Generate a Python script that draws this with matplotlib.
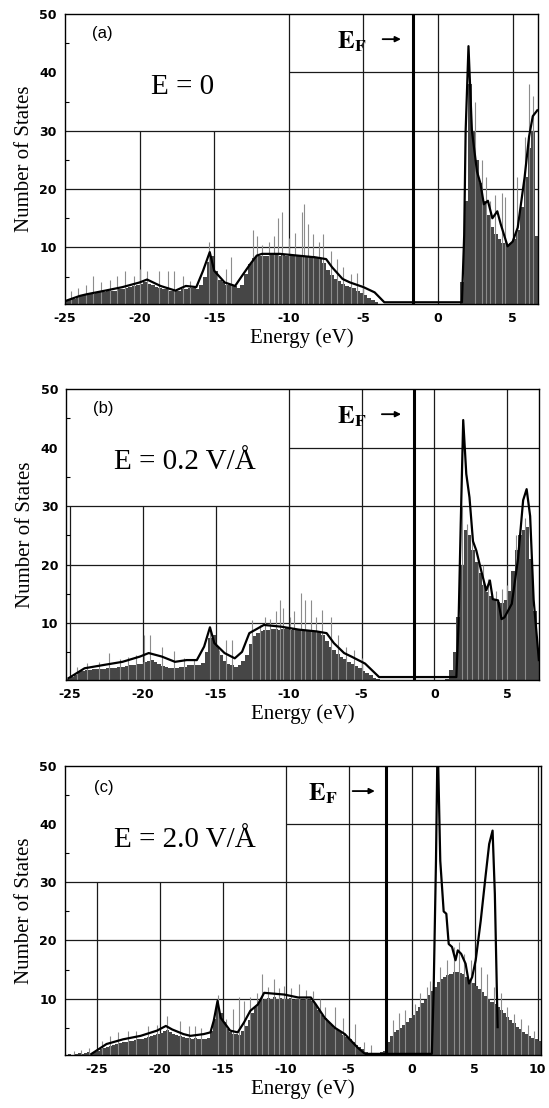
import numpy as np
import matplotlib
matplotlib.use("Agg")
import matplotlib.pyplot as plt

plt.rcParams["axes.unicode_minus"] = False
plt.rcParams["mathtext.fontset"] = "stix"

BIN = 0.25  # eV per histogram bin

# ---- panel (a): E = 0 ----
a_start = -25.0
a_fill = [0.8, 1.0, 1.2, 1.5, 1.6, 1.8, 2.0, 2.0, 2.2, 2.3, 2.4, 2.5, 2.5, 2.6, 2.8, 2.8,
          3.0, 3.2, 3.4, 3.6, 3.8, 4.0, 3.8, 3.5, 3.2, 3.0, 2.8, 2.8, 2.6, 2.5, 2.6, 2.8,
          2.9, 3.0, 3.0, 2.8, 3.5, 5.0, 7.5, 8.5, 6.0, 4.5, 4.0, 3.6, 3.8, 3.4, 3.0, 3.6,
          5.5, 7.2, 8.2, 8.5, 8.6, 8.6, 8.5, 8.7, 8.8, 8.6, 8.8, 8.5, 8.6, 8.5, 8.7, 8.4,
          8.6, 8.4, 8.5, 8.3, 8.2, 7.4, 6.2, 5.2, 4.6, 4.2, 3.8, 3.4, 3.2, 3.0, 2.6, 2.2,
          1.8, 1.4, 1.0, 0.6, 0.3, 0.2, 0.1, 0, 0, 0, 0, 0, 0, 0, 0, 0,
          0, 0, 0, 0, 0, 0, 0, 0, 0, 0, 4, 18, 38, 30, 25, 21,
          18, 15.5, 13.5, 12.3, 11.5, 10.8, 10.5, 10.8, 11.5, 13, 17, 22, 27, 30, 12]
a_spike_x = [-24.6, -24.1, -23.6, -23.1, -22.6, -22.0, -21.5, -21.0, -20.4, -20.0, -19.5,
             -18.7, -18.1, -17.7, -17.1, -16.6, -15.35, -14.8, -14.2, -13.9, -12.4, -12.1,
             -11.8, -11.35, -11.0, -10.7, -10.45, -10.0, -9.6, -9.15, -9.0, -8.7, -8.4,
             -8.0, -7.7, -7.2, -6.8, -6.4, -5.8, -5.4, -5.0, 2.5, 2.95, 3.2, 3.5, 3.8,
             4.3, 4.5, 5.3, 5.8, 6.1, 6.35]
a_spike_h = [2.5, 3.0, 3.5, 5.1, 4.0, 4.5, 5.1, 6.0, 5.1, 6.3, 6.0, 6.0, 6.0, 6.0, 5.1, 4.3,
             11.0, 5.5, 6.3, 8.3, 13.0, 12.0, 10.5, 11.0, 12.0, 15.0, 16.0, 11.7, 12.5, 16.0,
             17.4, 14.0, 12.3, 11.0, 12.3, 9.4, 8.0, 6.6, 5.4, 5.7, 3.5, 35, 25, 22, 18, 19,
             19.4, 18.6, 22, 29, 38, 36]
a_line_x = [-25.0, -24.0, -23.5, -22.3, -21.15, -20.0, -19.5, -18.6, -17.6, -16.9, -16.2,
            -15.75, -15.3, -15.0, -14.3, -13.6, -13.2, -12.6, -12.15, -11.8, -10.6, -9.4,
            -8.2, -7.5, -7.1, -6.4, -5.9, -5.0, -4.25, -3.6, 1.6, 1.75, 1.85, 2.04, 2.27,
            2.61, 2.84, 3.07, 3.34, 3.64, 3.97, 4.2, 4.66, 5.0, 5.34, 5.8, 6.1, 6.35, 6.65]
a_line_y = [0.8, 1.7, 2.0, 2.6, 3.2, 4.0, 4.5, 3.4, 2.6, 3.4, 3.2, 6.0, 9.2, 6.0, 4.0, 3.4,
            4.9, 7.1, 8.6, 8.9, 8.9, 8.6, 8.3, 8.0, 6.6, 4.6, 4.0, 3.2, 2.3, 0.6, 0.6, 12,
            30, 44.5, 30, 23, 21, 17.4, 18, 15, 16.2, 14, 10.2, 11, 13.4, 22, 29, 32.5, 33.5]

# ---- panel (b): E = 0.2 V/A ----
b_start = -25.25
b_fill = [0.5, 0.8, 1.2, 1.6, 1.9, 2.0, 2.0, 2.1, 2.1, 2.2, 2.2, 2.3, 2.3, 2.4, 2.5, 2.6, 2.7,
          2.8, 2.9, 3.0, 3.1, 3.3, 3.6, 3.7, 3.4, 3.0, 2.7, 2.5, 2.4, 2.4, 2.4, 2.5, 2.6,
          2.8, 2.9, 2.8, 2.9, 3.2, 5.0, 7.5, 8.0, 6.0, 4.5, 3.6, 3.0, 2.8, 2.6, 2.8, 3.5,
          4.6, 6.5, 7.8, 8.4, 8.6, 8.8, 8.8, 9.0, 9.0, 8.9, 9.0, 9.1, 8.9, 9.0, 8.8, 9.0,
          8.9, 8.8, 8.9, 8.7, 8.6, 8.0, 7.0, 6.0, 5.4, 4.8, 4.3, 3.8, 3.4, 3.0, 2.7, 2.3,
          1.9, 1.5, 1.1, 0.7, 0.4, 0.2, 0.1, 0, 0, 0, 0, 0, 0, 0, 0, 0,
          0, 0, 0, 0, 0, 0, 0, 0.5, 2, 5, 11, 20, 26, 25, 22.5, 20.5,
          18.5, 16.5, 15.3, 14.6, 14.0, 13.6, 13.4, 14.0, 15.5, 19, 22.5, 25, 26, 26.5, 21, 12,
          5, 2.5]
b_spike_x = [-24.5, -23.8, -23.0, -22.3, -21.6, -21.0, -20.5, -19.9, -19.5, -18.7, -17.9,
             -17.2, -16.5, -15.4, -14.8, -14.3, -13.9, -12.5, -12.0, -11.6, -11.3, -10.9,
             -10.6, -10.4, -9.9, -9.65, -9.15, -8.85, -8.5, -8.1, -7.7, -7.1, -6.6, -6.1,
             -5.5, -5.0, 1.9, 2.2, 2.6, 3.0, 3.3, 3.7, 4.2, 4.6, 5.0, 5.6, 6.2]
b_spike_h = [2.5, 3.2, 3.4, 4.9, 3.8, 4.2, 4.5, 8.0, 8.0, 6.0, 5.2, 4.0, 3.8, 9.4, 5.5, 7.2,
             7.2, 10.5, 9.7, 11.0, 10.8, 12.0, 14.0, 12.6, 11.0, 12.0, 15.1, 14.0, 14.0,
             11.0, 12.3, 11.1, 8.0, 6.0, 5.5, 4.0, 30, 27, 24, 21, 20, 17.5, 15.5, 15.8,
             16.5, 25, 28]
b_line_x = [-25.1, -24.0, -22.6, -21.4, -20.2, -19.6, -18.7, -17.8, -17.0, -16.3, -15.8,
            -15.4, -15.1, -14.4, -13.7, -13.2, -12.7, -11.7, -10.5, -9.3, -8.1, -7.4, -6.9,
            -6.2, -5.7, -4.76, -3.8, 1.5, 1.65, 1.8, 1.97, 2.18, 2.4, 2.64, 2.87, 3.2, 3.55,
            3.8, 4.0, 4.36, 4.6, 4.8, 5.3, 5.73, 6.08, 6.32, 6.56, 6.8, 7.16]
b_line_y = [0.6, 2.3, 2.9, 3.4, 4.3, 4.9, 4.3, 3.4, 3.7, 3.7, 6.0, 9.3, 6.6, 4.9, 4.0, 5.1,
            8.3, 9.7, 9.4, 8.9, 8.6, 8.3, 6.6, 4.9, 4.3, 3.1, 0.8, 0.8, 10, 27, 44.7, 35.5,
            31.5, 24, 22.4, 19, 15.6, 17.3, 14.1, 13.9, 10.7, 11, 13.3, 21, 31, 32.9, 28.3,
            14, 3.7]

# ---- panel (c): E = 2.0 V/A ----
c_start = -27.5
c_fill = [0.3, 0.4, 0.3, 0.5, 0.6, 0.4, 0.6, 0.8, 0.5, 0.8, 1.0, 1.3, 1.5, 1.7,
          1.8, 2.0, 2.2, 2.3, 2.5, 2.6, 2.7, 2.8, 2.9, 3.0, 3.1, 3.3, 3.4, 3.6, 3.8, 3.9,
          4.1, 4.5, 4.6, 4.3, 4.0, 3.7, 3.5, 3.4, 3.3, 3.2, 3.1, 3.2, 3.1, 3.0, 3.0, 3.2,
          4.5, 6.5, 8.5, 7.5, 6.0, 4.8, 4.2, 4.0, 3.9, 3.8, 4.4, 5.3, 6.3, 7.5, 8.6, 9.3,
          9.7, 10.0, 10.1, 10.0, 10.2, 10.0, 10.1, 9.9, 10.0, 10.1, 9.8, 10.0, 9.9, 9.8, 9.9, 9.7,
          9.6, 9.0, 8.0, 7.2, 6.6, 6.0, 5.5, 5.0, 4.6, 4.2, 3.8, 3.4, 3.0, 2.6, 2.1, 1.7,
          1.3, 0.9, 0.6, 0.4, 0.5, 0.6, 0.8, 1.0, 2.5, 3.6, 4.2, 4.6, 5.0, 5.5, 6.0, 6.6,
          7.2, 7.9, 8.6, 9.2, 9.8, 10.6, 11.3, 12.0, 12.8, 13.3, 13.7, 14.1, 14.3, 14.5, 14.5, 14.4,
          14.2, 13.8, 13.2, 12.7, 12.1, 11.6, 11.1, 10.5, 10.0, 9.5, 9.0, 8.5, 8.0, 7.5, 6.9, 6.3,
          5.8, 5.2, 4.7, 4.3, 3.9, 3.5, 3.2, 3.0, 2.8]
c_spike_x = [-26.8, -26.2, -25.6, -24.6, -23.9, -23.3, -22.5, -21.9, -20.9, -20.2, -19.4,
             -18.35, -17.7, -17.15, -16.75, -15.4, -14.7, -14.2, -13.7, -13.3, -12.8, -12.3,
             -11.9, -11.4, -10.9, -10.5, -10.1, -9.6, -8.9, -8.4, -7.85, -7.3, -6.9, -6.1,
             -5.45, -4.5, -3.8, -3.2, -1.5, -1.0, -0.5, 0.27, 0.67, 1.2, 1.47, 2.27, 2.8,
             3.34, 3.74, 4.14, 4.68, 5.48, 6.0, 6.55, 7.1, 7.6, 8.15, 8.7, 9.2, 9.7]
c_spike_h = [1.0, 1.2, 1.5, 2.8, 3.5, 4.2, 4.5, 4.4, 5.3, 5.5, 7.0, 6.2, 5.3, 5.3, 5.0, 10.7,
             6.5, 8.2, 10.2, 9.6, 10.2, 11.0, 14.2, 12.0, 13.3, 11.8, 12.2, 11.9, 12.5, 11.5,
             11.3, 10.0, 8.5, 8.5, 6.7, 5.6, 2.5, 2.0, 6.3, 7.5, 8.0, 9.1, 10.9, 12.0, 13.1,
             15.4, 16.6, 18.9, 19.7, 17.7, 16.6, 15.4, 14.3, 12.0, 10.9, 8.6, 7.4, 6.5, 5.5, 4.5]
c_line_x = [-25.4, -24.2, -22.9, -21.5, -20.2, -19.5, -19.0, -18.1, -17.55, -16.5, -15.96,
            -15.7, -15.4, -15.15, -14.4, -13.8, -13.3, -12.8, -12.2, -11.7, -10.1, -9.0,
            -8.0, -7.6, -6.9, -6.1, -5.3, -4.3, -3.7, 1.6, 1.74, 1.93, 2.06, 2.27, 2.54,
            2.75, 2.94, 3.2, 3.48, 3.66, 3.93, 4.28, 4.55, 4.8, 5.08, 5.48, 5.88, 6.15,
            6.42, 6.6, 6.82]
c_line_y = [0.5, 2.2, 3.0, 3.6, 4.5, 5.3, 4.7, 3.9, 3.6, 3.9, 4.2, 6.2, 9.6, 6.7, 4.5, 4.2,
            5.9, 7.9, 9.0, 11.0, 10.7, 10.2, 10.2, 9.0, 6.7, 5.0, 3.9, 1.6, 0.5, 0.5, 10.9,
            33.7, 55, 33.7, 25, 24.6, 19.4, 18.9, 16.6, 18.3, 17.7, 16, 12.6, 13.7, 16.6,
            23.4, 31.4, 36.6, 38.9, 28, 5.1]

ef_levels = {"a": -1.7, "b": -1.4, "c": -2.04}
field_labels = {"a": "E = 0", "b": "E = 0.2 V/Å", "c": "E = 2.0 V/Å"}
xticks_ab = [-25, -20, -15, -10, -5, 0, 5]
xticks_c = [-25, -20, -15, -10, -5, 0, 5, 10]
yticks = [10, 20, 30, 40, 50]

FILL = "#464646"
SPIKE = "#8c8c8c"
GRID = "#1a1a1a"

fig = plt.figure(figsize=(5.49, 11.08), dpi=100)

panels = [
    dict(key="a", rect=[0.1184, 0.7256, 0.8616, 0.2617], start=a_start, fill=a_fill,
         sx=a_spike_x, sh=a_spike_h, lx=a_line_x, ly=a_line_y, xlim=(-25.0, 6.7),
         xticks=xticks_ab, tag=(-23.2, 46.6), fld=(-17.1, 37.5), eft=(-6.8, 45.3), arr=(-3.9, -2.3)),
    dict(key="b", rect=[0.1211, 0.3863, 0.8610, 0.2626], start=b_start, fill=b_fill,
         sx=b_spike_x, sh=b_spike_h, lx=b_line_x, ly=b_line_y, xlim=(-25.24, 7.18),
         xticks=xticks_ab, tag=(-23.4, 46.6), fld=(-17.1, 37.6), eft=(-6.7, 45.3), arr=(-3.8, -2.1)),
    dict(key="c", rect=[0.1184, 0.0478, 0.8670, 0.2608], start=c_start, fill=c_fill,
         sx=c_spike_x, sh=c_spike_h, lx=c_line_x, ly=c_line_y, xlim=(-27.5, 10.26),
         xticks=xticks_c, tag=(-25.2, 46.4), fld=(-18.0, 37.2), eft=(-8.2, 45.3), arr=(-4.9, -2.7)),
]

for p in panels:
    ax = fig.add_axes(p["rect"])
    x0, x1 = p["xlim"]
    ax.set_xlim(x0, x1)
    ax.set_ylim(0.3, 50)

    # partial grid, as in the original figure
    for t in p["xticks"]:
        if t <= x0 + 0.05:
            continue
        top = 30 if t < -10 else 50
        ax.vlines(t, 0, top, color=GRID, lw=0.9, zorder=1)
    for yv in [10, 20, 30]:
        ax.hlines(yv, x0, x1, color=GRID, lw=0.9, zorder=1)
    ax.hlines(40, -10, x1, color=GRID, lw=0.9, zorder=1)

    # histogram of states
    vals = np.array(p["fill"])
    edges = p["start"] + BIN * np.arange(len(vals) + 1)
    ax.stairs(vals, edges, fill=True, color=FILL, baseline=0, zorder=2)
    ax.vlines(p["sx"], 0, p["sh"], color=SPIKE, lw=0.8, zorder=2.5)

    # smoothed curve
    ax.plot(p["lx"], p["ly"], color="black", lw=1.6, zorder=3)

    # Fermi level
    ax.axvline(ef_levels[p["key"]], color="black", lw=2.2, zorder=4)

    ax.text(p["tag"][0], p["tag"][1], "(%s)" % p["key"], fontsize=12, family="Liberation Sans",
            ha="left", va="center")
    ax.text(p["fld"][0], p["fld"][1], field_labels[p["key"]], fontsize=21,
            family="Liberation Serif", ha="center", va="center")
    ax.text(p["eft"][0], p["eft"][1], r"$\mathbf{E_F}$", fontsize=18, ha="left", va="center")
    ax.annotate("", xy=(p["arr"][1], p["eft"][1] + 0.4), xytext=(p["arr"][0], p["eft"][1] + 0.4),
                arrowprops=dict(arrowstyle="-|>", color="black", lw=1.3, mutation_scale=8))

    ax.set_xticks(p["xticks"])
    ax.set_yticks(yticks)
    ax.set_yticks([5, 15, 25, 35, 45], minor=True)
    ax.tick_params(axis="both", which="major", length=0, pad=6, labelsize=9)
    ax.tick_params(axis="y", which="minor", direction="in", length=3, width=0.8)
    for lab in ax.get_xticklabels() + ax.get_yticklabels():
        lab.set_fontweight("bold")
    for s in ax.spines.values():
        s.set_linewidth(1.0)
    ax.set_xlabel("Energy (eV)", fontsize=15, family="Liberation Serif", labelpad=2)
    ax.set_ylabel("Number of States", fontsize=15, family="Liberation Serif", labelpad=4)

fig.savefig("out.png", dpi=100)
